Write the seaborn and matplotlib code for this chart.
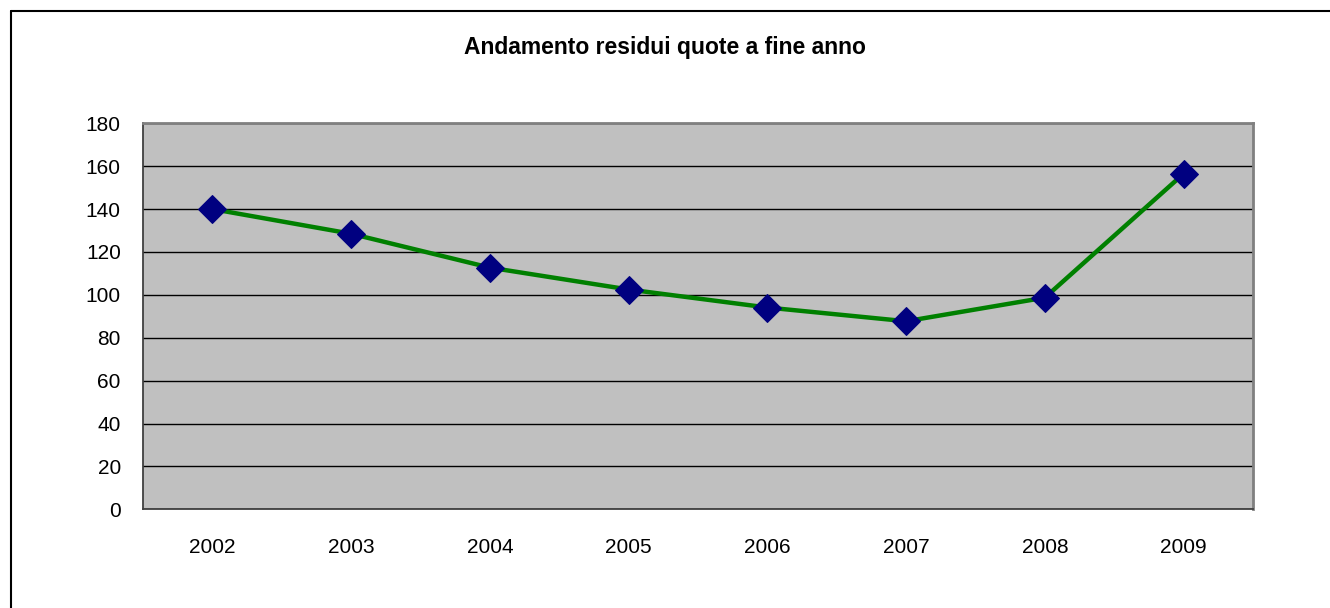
import matplotlib
matplotlib.use('Agg')
import matplotlib.pyplot as plt
from matplotlib.lines import Line2D
import seaborn as sns
import pandas as pd

years = ['2002', '2003', '2004', '2005', '2006', '2007', '2008', '2009']
residui = [140, 128.5, 112.7, 102.5, 94.1, 87.7, 98.7, 156.5]
y_ticks = [0, 20, 40, 60, 80, 100, 120, 140, 160, 180]

df = pd.DataFrame({'anno': years, 'residui': residui})

sns.set_style('white')
plt.rcParams['font.family'] = ['Liberation Sans', 'DejaVu Sans']
plt.rcParams['text.color'] = 'black'
plt.rcParams['xtick.labelcolor'] = 'black'
plt.rcParams['ytick.labelcolor'] = 'black'

fig = plt.figure(figsize=(13.3, 6.08), dpi=100)
ax = fig.add_axes([0.1075, 0.1623, 0.8346, 0.6349])
ax.set_facecolor('#C0C0C0')

sns.lineplot(data=df, x='anno', y='residui', ax=ax, color='#008000', linewidth=3.2,
             marker='D', markersize=14, markerfacecolor='#000080',
             markeredgecolor='#000080', zorder=3)

ax.set_ylim(0, 180)
ax.set_yticks(y_ticks)
ax.grid(axis='y', color='black', linewidth=1)
ax.set_axisbelow(True)
ax.set_xlim(-0.5, len(years) - 0.5)
ax.set_xticks(range(len(years)))
ax.set_xticklabels(years)
ax.set_xticks([i - 0.5 for i in range(len(years) + 1)], minor=True)
ax.tick_params(axis='x', which='major', length=0, pad=21, labelsize=15, labelcolor='black')
ax.tick_params(axis='x', which='minor', length=7, width=1, color='#404040', direction='out')
ax.tick_params(axis='y', length=7, width=1, color='#404040', direction='out', pad=9,
               labelsize=15, labelcolor='black')
ax.set_xlabel('')
ax.set_ylabel('')

for side in ['left', 'bottom']:
    ax.spines[side].set_color('#404040')
    ax.spines[side].set_linewidth(1.3)
for side in ['top', 'right']:
    ax.spines[side].set_color('#808080')
    ax.spines[side].set_linewidth(2)

fig.text(0.5, 0.922, 'Andamento residui quote a fine anno', ha='center', va='center',
         fontsize=16.5, fontweight='bold', color='black')

# outer chart frame (only top and left edges visible)
fig.add_artist(Line2D([0.0083, 1.0], [0.982, 0.982], color='black', linewidth=1.5))
fig.add_artist(Line2D([0.0083, 0.0083], [0.0, 0.982], color='black', linewidth=1.5))

fig.savefig('out.png', dpi=100)
